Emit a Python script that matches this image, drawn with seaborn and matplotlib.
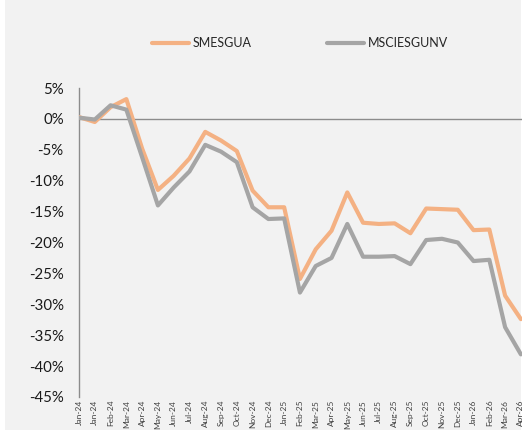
"""Cumulative return of SMESGUA vs MSCIESGUNV, recreated with seaborn."""

import matplotlib

matplotlib.use("Agg")
import matplotlib.pyplot as plt
import numpy as np
import pandas as pd
import seaborn as sns
from matplotlib.patches import Rectangle
from matplotlib.ticker import FuncFormatter

months = [
    "Jan-24", "Jan-24", "Feb-24", "Mar-24", "Apr-24", "May-24", "Jun-24", "Jul-24",
    "Aug-24", "Sep-24", "Oct-24", "Nov-24", "Dec-24", "Jan-25", "Feb-25", "Mar-25",
    "Apr-25", "May-25", "Jun-25", "Jul-25", "Aug-25", "Sep-25", "Oct-25", "Nov-25",
    "Dec-25", "Jan-26", "Feb-26", "Mar-26", "Apr-26",
]
smesgua = [
    0.3, -0.5, 1.9, 3.2, -4.8, -11.5, -9.2, -6.4, -2.1, -3.5, -5.2, -11.6, -14.3,
    -14.3, -25.9, -21.1, -18.1, -11.9, -16.8, -17.0, -16.9, -18.5, -14.5, -14.6,
    -14.7, -18.0, -17.9, -28.6, -32.4,
]
msciesgunv = [
    0.2, -0.1, 2.2, 1.5, -6.2, -14.0, -11.1, -8.5, -4.2, -5.3, -7.0, -14.3, -16.2,
    -16.1, -28.1, -23.8, -22.5, -17.0, -22.3, -22.3, -22.2, -23.5, -19.6, -19.4,
    -20.0, -23.0, -22.8, -33.7, -38.1,
]
series_names = ["SMESGUA", "MSCIESGUNV"]
series_colors = ["#F4B183", "#A5A5A5"]

positions = np.arange(len(months))
frame = pd.concat(
    [
        pd.DataFrame({"pos": positions, "value": smesgua, "series": series_names[0]}),
        pd.DataFrame({"pos": positions, "value": msciesgunv, "series": series_names[1]}),
    ],
    ignore_index=True,
)

sns.set_style("white")
plt.rcParams["font.family"] = ["Lato", "DejaVu Sans"]

fig = plt.figure(figsize=(5.22, 4.30), dpi=100, facecolor="white")
# light gray chart area, leaving the thin white strip on the left
fig.patches.append(
    Rectangle((5 / 522, 0), 516 / 522, 1, transform=fig.transFigure,
              facecolor="#F2F2F2", edgecolor="none", zorder=-10)
)

ax = fig.add_axes([79 / 522, 33 / 430, 443 / 522, 309 / 430])
ax.set_facecolor("#F2F2F2")
ax.patch.set_alpha(0)

sns.lineplot(
    data=frame, x="pos", y="value", hue="series",
    palette=dict(zip(series_names, series_colors)),
    linewidth=3.0, ax=ax, legend=False, zorder=3,
)

ax.axhline(0, color="#8C8C8C", linewidth=1.0, zorder=2)
ax.set_xlim(0, 28.07)
ax.set_ylim(-45, 5)
ax.set_yticks(np.arange(-45, 6, 5))
ax.yaxis.set_major_formatter(FuncFormatter(lambda v, _: f"{v:.0f}%"))
ax.set_xticks(positions)
ax.set_xticklabels(months, rotation=90, fontsize=6, color="#404040")
ax.tick_params(axis="x", length=0, pad=2)
ax.tick_params(axis="y", length=0, pad=11, labelsize=10.8, labelcolor="#1A1A1A")
ax.set_xlabel("")
ax.set_ylabel("")

for side in ["top", "right", "bottom"]:
    ax.spines[side].set_visible(False)
ax.spines["left"].set_color("#8C8C8C")
ax.spines["left"].set_linewidth(1.0)

handles = [plt.Line2D([], [], color=c, linewidth=3.0) for c in series_colors]
fig.legend(
    handles, series_names, loc="center", bbox_to_anchor=(300 / 522, 1 - 43 / 430),
    ncol=2, frameon=False, fontsize=9, handlelength=3.0, handletextpad=0.3,
    columnspacing=6.0,
)

fig.savefig("out.png", dpi=100, facecolor=fig.get_facecolor())
